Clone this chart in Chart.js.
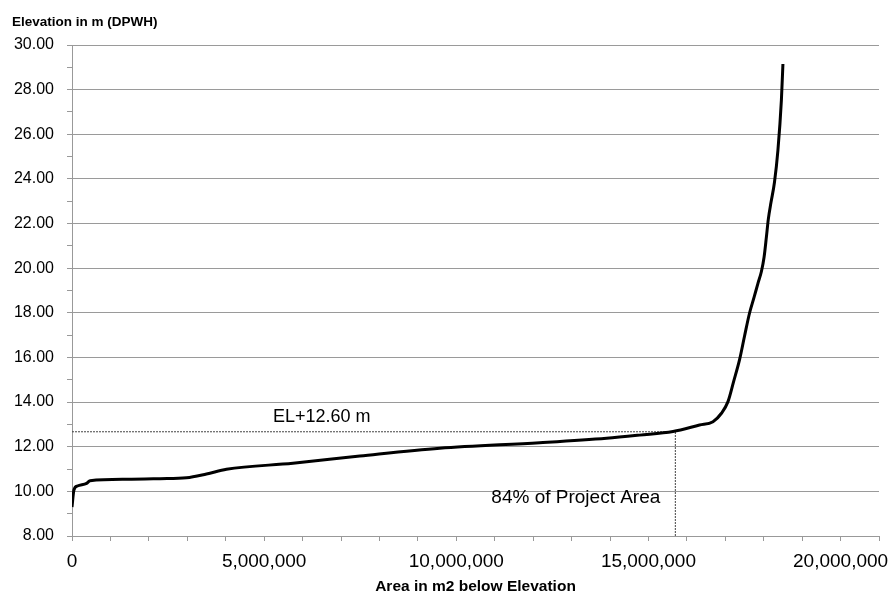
<!DOCTYPE html>
<html>
<head>
<meta charset="utf-8">
<script src="https://cdn.jsdelivr.net/npm/chart.js@4.4.1/dist/chart.umd.min.js"></script>
<style>
  html, body { margin: 0; padding: 0; background: #fff; }
  #wrap { width: 890px; height: 594px; position: relative; }
</style>
</head>
<body>
<div id="wrap"><canvas id="area-chart"></canvas></div>
<script>
// Area below elevation (m2) vs elevation (m, DPWH)
const areaValues = [0, 50000, 140000, 380000, 470000, 1420000, 2290000, 2980000, 3500000, 4020000,
    5750000, 7490000, 9570000, 12170000, 13910000, 14770000, 15640000, 16330000, 16680000, 16900000,
    17070000, 17220000, 17370000, 17500000, 17630000, 17750000, 17850000, 17940000, 18010000, 18070000,
    18120000, 18190000, 18280000, 18370000, 18460000, 18500000];
const elevationValues = [9.30, 10.06, 10.24, 10.36, 10.48, 10.54, 10.57, 10.61, 10.78, 10.99,
    11.26, 11.58, 11.93, 12.18, 12.38, 12.52, 12.68, 12.97, 13.12, 13.50,
    14.02, 14.94, 15.89, 16.95, 17.98, 18.70, 19.32, 19.85, 20.50, 21.40,
    22.20, 22.95, 23.85, 25.29, 27.53, 29.15];

// Reference level marker
const markerElevation = 12.67;
const markerArea = 15700000;
const markerLabels = ['EL+12.60 m', '84% of Project Area'];

// Axis settings
const xTicks = [0, 5000000, 10000000, 15000000, 20000000];
const yRange = [8, 30];
const xRange = [0, 21000000];

const curve = areaValues.map((a, i) => ({ x: a, y: elevationValues[i] }));

// Draws the axis titles and marker texts
const labelPlugin = {
    id: 'labels',
    afterDraw(chart) {
        const ctx = chart.ctx;
        const xs = chart.scales.x;
        const ys = chart.scales.y;
        const area = chart.chartArea;
        ctx.save();
        ctx.fillStyle = '#000';
        ctx.textBaseline = 'alphabetic';

        ctx.font = 'bold 13.5px "Liberation Sans"';
        ctx.textAlign = 'left';
        ctx.fillText('Elevation in m (DPWH)', 12, 26);

        ctx.font = 'bold 15.5px "Liberation Sans"';
        ctx.textAlign = 'center';
        ctx.fillText('Area in m2 below Elevation', (area.left + area.right) / 2, 591);

        ctx.font = '18px "Liberation Sans"';
        ctx.textAlign = 'center';
        ctx.fillText(markerLabels[0], xs.getPixelForValue(6500000), ys.getPixelForValue(markerElevation) - 10);

        ctx.font = '19px "Liberation Sans"';
        ctx.textAlign = 'right';
        ctx.fillText(markerLabels[1], xs.getPixelForValue(markerArea) - 15, ys.getPixelForValue(9.5));
        ctx.restore();
    }
};

const chart = new Chart(document.getElementById('area-chart'), {
    type: 'scatter',
    data: {
        datasets: [
            {
                label: 'Area-Elevation',
                data: curve,
                showLine: true,
                borderColor: '#000',
                borderWidth: 3,
                pointRadius: 0,
                cubicInterpolationMode: 'monotone',
                order: 1
            },
            {
                label: 'EL line',
                data: [{ x: xRange[0], y: markerElevation }, { x: markerArea, y: markerElevation }],
                showLine: true,
                borderColor: '#444',
                borderWidth: 1,
                borderDash: [2, 1],
                pointRadius: 0,
                order: 2
            },
            {
                label: 'Area line',
                data: [{ x: markerArea, y: yRange[0] }, { x: markerArea, y: markerElevation }],
                showLine: true,
                borderColor: '#444',
                borderWidth: 1,
                borderDash: [2, 1],
                pointRadius: 0,
                order: 2
            }
        ]
    },
    options: {
        responsive: true,
        maintainAspectRatio: false,
        animation: false,
        layout: { padding: { top: 45, right: 11, left: 0, bottom: 0 } },
        plugins: {
            legend: { display: false },
            tooltip: { enabled: false }
        },
        scales: {
            x: {
                type: 'linear',
                min: xRange[0],
                max: xRange[1],
                afterFit: (s) => { s.height = 58; },
                border: { color: '#999', width: 1 },
                grid: {
                    drawOnChartArea: false,
                    drawTicks: true,
                    tickLength: 5,
                    color: '#999'
                },
                ticks: {
                    stepSize: 1000000,
                    autoSkip: false,
                    maxRotation: 0,
                    padding: 9,
                    color: '#000',
                    font: { family: '"Liberation Sans"', size: 19 },
                    callback: (v) => xTicks.includes(v) ? v.toLocaleString('en-US') : ''
                }
            },
            y: {
                min: yRange[0],
                max: yRange[1],
                afterFit: (s) => { s.width = 72; },
                border: { color: '#999', width: 1 },
                grid: {
                    drawTicks: true,
                    tickLength: 5,
                    color: (c) => (c.tick && c.tick.value % 2 === 0) ? '#9a9a9a' : 'rgba(0,0,0,0)',
                    tickColor: '#999'
                },
                ticks: {
                    stepSize: 1,
                    autoSkip: false,
                    padding: 13,
                    color: '#000',
                    font: { family: '"Liberation Sans"', size: 16 },
                    callback: (v) => v % 2 === 0 ? v.toFixed(2) : ''
                }
            }
        }
    },
    plugins: [labelPlugin]
});
</script>
</body>
</html>
